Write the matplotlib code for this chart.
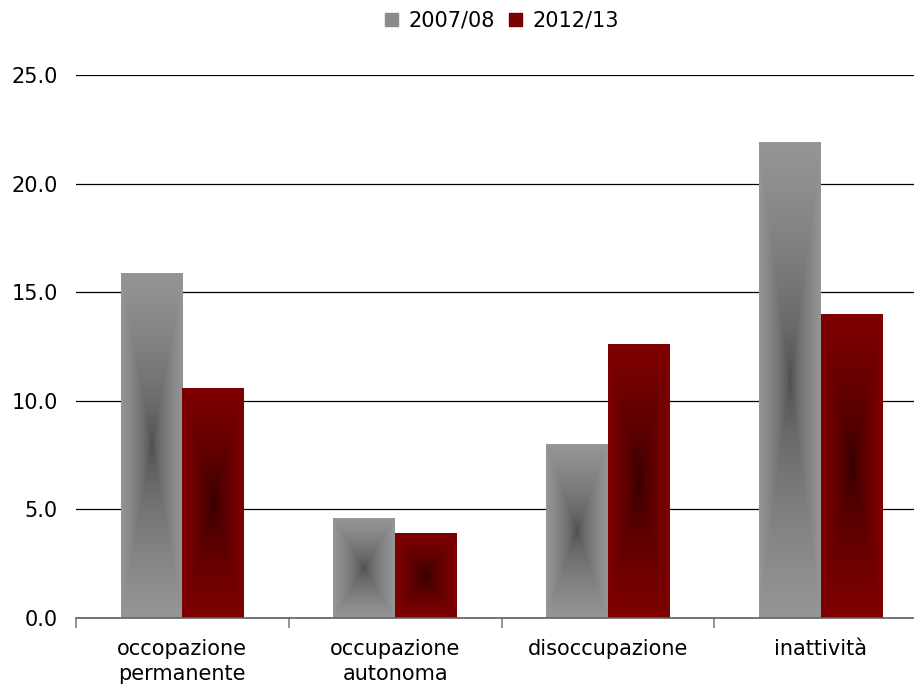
import numpy as np
import matplotlib
matplotlib.use("Agg")
import matplotlib.pyplot as plt
import matplotlib.patches as mpatches
from matplotlib.colors import to_rgb

categories = ["occopazione\npermanente", "occupazione\nautonoma", "disoccupazione", "inattività"]
series_names = ["2007/08", "2012/13"]
values_2007 = [15.9, 4.6, 8.0, 21.9]
values_2012 = [10.6, 3.9, 12.6, 14.0]
yticks = [0, 5, 10, 15, 20, 25]

# edge colour, centre colour for the "from centre" gradient
fills = [("#969696", "#4a4a4a"), ("#800000", "#2e0000")]


def gradient_image(edge, centre, n=300):
    u = np.linspace(-1, 1, n)
    uu, vv = np.meshgrid(u, u)
    t = np.maximum(np.abs(uu), np.abs(vv))[..., None] ** 0.6
    e = np.array(to_rgb(edge))
    c = np.array(to_rgb(centre))
    return c + (e - c) * t


plt.rcParams["font.family"] = "DejaVu Sans"
plt.rcParams["font.size"] = 15

fig = plt.figure(figsize=(9.14, 6.85), dpi=100)
ax = fig.add_axes([76 / 914, 67 / 685, 851 / 914, 543 / 685])

x = np.arange(len(categories))
width = 0.29
offsets = [-width / 2, width / 2]

for vals, off, (edge, centre) in zip([values_2007, values_2012], offsets, fills):
    bars = ax.bar(x + off, vals, width, color=edge, zorder=2)
    img = gradient_image(edge, centre)
    for bar in bars:
        x0, y0 = bar.get_x(), bar.get_y()
        w, h = bar.get_width(), bar.get_height()
        im = ax.imshow(img, extent=(x0, x0 + w, y0, y0 + h), aspect="auto",
                       interpolation="bilinear", zorder=3)
        im.set_clip_path(bar)

ax.set_xlim(-0.5, len(categories) - 0.5)
ax.set_ylim(0, 25)

ax.set_yticks(yticks)
ax.set_yticklabels([f"{v:.1f}" for v in yticks])
ax.yaxis.grid(True, color="black", linewidth=0.9, zorder=0)
ax.set_axisbelow(True)

ax.set_xticks(x)
ax.set_xticklabels(categories, linespacing=1.35)
ax.set_xticks(np.arange(len(categories)) - 0.5, minor=True)
ax.tick_params(axis="x", which="major", length=0, pad=15)
ax.tick_params(axis="x", which="minor", length=7, color="#808080", width=1.2)
ax.tick_params(axis="y", length=0, pad=13)

for s in ["top", "right", "left"]:
    ax.spines[s].set_visible(False)
ax.spines["bottom"].set_color("#606060")
ax.spines["bottom"].set_linewidth(1.2)
ax.spines["bottom"].set_zorder(4)

handles = [mpatches.Patch(color=c, label=n) for c, n in zip(["#8a8a8a", "#7a0000"], series_names)]
fig.legend(handles=handles, loc="center", bbox_to_anchor=(502 / 914, 1 - 21 / 685),
           ncol=2, frameon=False, handlelength=0.6, handleheight=0.6,
           handletextpad=0.5, columnspacing=0.7, fontsize=15)

fig.savefig("out.png", dpi=100)
